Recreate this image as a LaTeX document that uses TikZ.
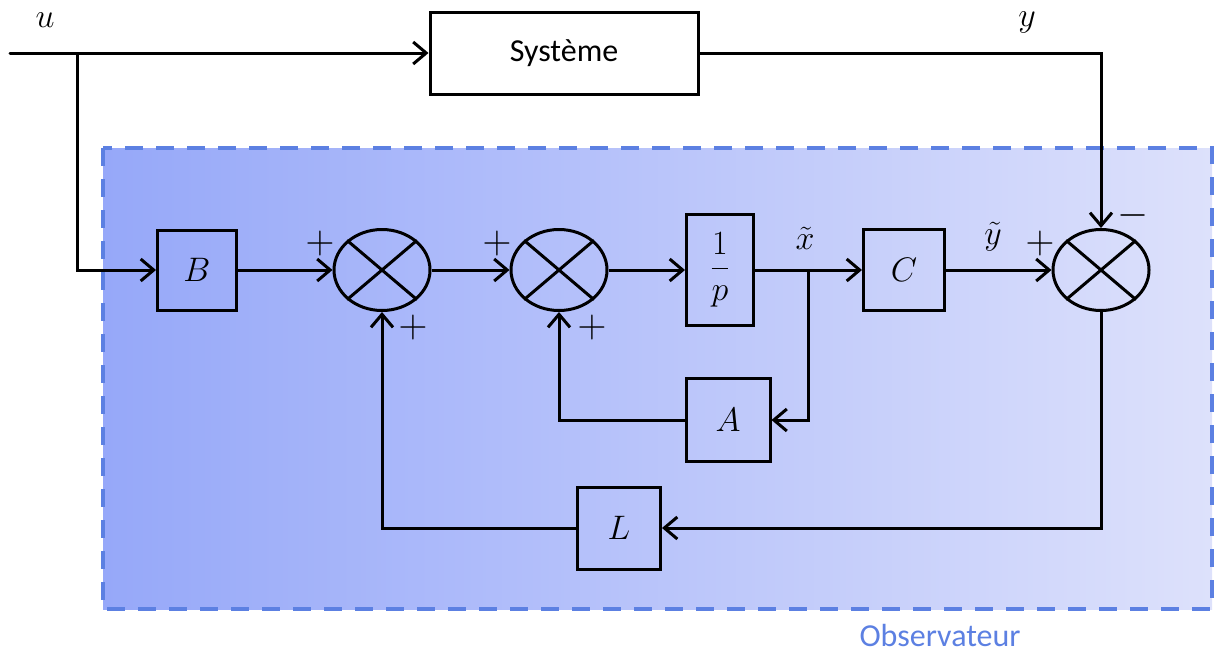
\documentclass[tikz,border=0pt]{standalone}
\usepackage{fix-cm}
\usepackage{amsmath}
\usepackage{fontspec}
\setmainfont{Carlito}
\usetikzlibrary{arrows.meta,shapes.geometric}

\definecolor{obsblue}{RGB}{92,128,226}
\definecolor{obsleft}{RGB}{150,168,249}
\definecolor{obsright}{RGB}{221,225,251}

\begin{document}
\begin{tikzpicture}[
    x=1pt,y=-1pt,
    line/.style={line width=3pt,line cap=round},
    flow/.style={line width=3pt,-{Straight Barb[length=13pt,width=22pt,line width=3pt]}},
    block/.style={draw,line width=3pt,inner sep=0pt,font=\fontsize{34}{40}\selectfont},
    sumnode/.style={ellipse,draw,line width=3pt,minimum width=96pt,minimum height=81pt,inner sep=0pt},
    mlabel/.style={font=\fontsize{34}{40}\selectfont,inner sep=0pt},
    sign/.style={font=\fontsize{40}{44}\selectfont,inner sep=0pt},
    txt/.style={font=\fontsize{32}{38}\selectfont,inner sep=0pt}
]
\useasboundingbox (0,0) rectangle (1214,653);

% observer frame
\fill[left color=obsleft,right color=obsright] (103,148) rectangle (1212,609);
\draw[obsblue,line width=4pt,dash pattern=on 18pt off 13pt] (103,148) rectangle (1212,609);
\node[txt,text=obsblue] (obs) at (940,635) {Observateur};

% system
\node[block,fill=white,minimum width=268pt,minimum height=82pt] (sys) at (564,53) {\fontsize{32}{38}\selectfont Système};

% observer blocks
\node[block,minimum width=79pt,minimum height=80pt] (b) at (197,270) {$B$};
\node[sumnode] (s1) at (382,270) {};
\node[sumnode] (s2) at (559,270) {};
\node[block,minimum width=67pt,minimum height=111pt] (ip) at (720,270) {$\dfrac{1}{p}$};
\node[block,minimum width=81pt,minimum height=81pt] (c) at (904,270) {$C$};
\node[sumnode] (s3) at (1101,270) {};
\node[block,minimum width=84pt,minimum height=83pt] (a) at (728,420) {$A$};
\node[block,minimum width=83pt,minimum height=82pt] (l) at (619,528) {$L$};

\foreach \s in {s1,s2,s3} {
  \draw[line width=3pt] (\s.north west) -- (\s.south east);
  \draw[line width=3pt] (\s.north east) -- (\s.south west);
}

\coordinate (in) at (10,53);
\coordinate (bu) at (77,53);
\coordinate (xt) at (808,270);

% connectors
\draw[line] (in) -- (bu);
\draw[flow] (bu) -- (sys);
\draw[flow] (bu) |- (b);
\draw[flow] (sys) -| (s3);
\draw[flow] (b) -- (s1);
\draw[flow] (s1) -- (s2);
\draw[flow] (s2) -- (ip);
\draw[flow] (ip) -- (c);
\draw[flow] (xt) |- (a);
\draw[flow] (a) -| (s2);
\draw[flow] (c) -- (s3);
\draw[flow] (s3) |- (l);
\draw[flow] (l) -| (s1);

% labels
\node[mlabel] (lu) at (45,20) {$u$};
\node[mlabel] (ly) at (1027,22) {$y$};
\node[mlabel] (lx) at (805,238) {$\tilde{x}$};
\node[mlabel] (lyt) at (993,237) {$\tilde{y}$};

\node[sign] (p1) at (320,243) {$+$};
\node[sign] (p2) at (413,327) {$+$};
\node[sign] (p3) at (497,243) {$+$};
\node[sign] (p4) at (592,327) {$+$};
\node[sign] (p5) at (1040,243) {$+$};
\node[sign] (m1) at (1133,215) {$-$};
\end{tikzpicture}
\end{document}
